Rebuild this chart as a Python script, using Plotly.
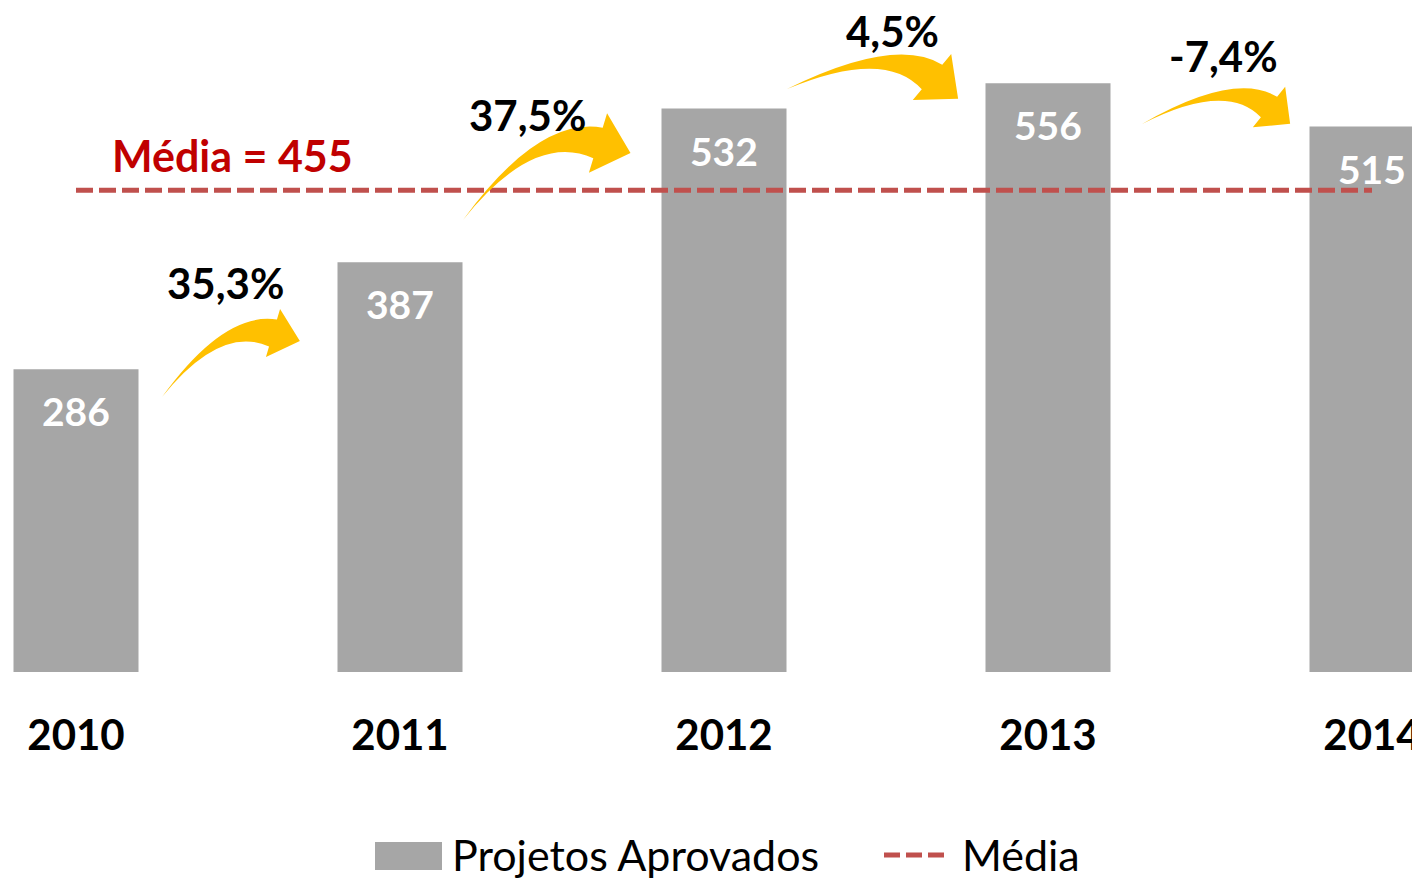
import plotly.graph_objects as go

# data
years = ["2010", "2011", "2012", "2013", "2014"]
projetos = [286, 387, 532, 556, 515]
media = round(sum(projetos) / len(projetos))

bar_color = "#A6A6A6"
line_color = "#C0504D"
arrow_color = "#FFC000"
font = "Lato"

# the page body adds an 8px margin, so the figure is made smaller and
# every reference pixel position below is shifted by that amount
OFF = 8
W, H = 1420 - OFF, 878 - OFF
X0_PX = 76 - OFF      # centre of first category
CAT_PX = 324          # distance between categories
BASE_PX = 672 - OFF   # y of the bar baseline
Y_PX = 1.059          # pixels per unit


def to_data(px, py):
    return (px - OFF - X0_PX) / CAT_PX, (BASE_PX - (py - OFF)) / Y_PX


def to_paper(px, py):
    return (px - OFF) / W, (BASE_PX - (py - OFF)) / BASE_PX


def arrow_path(T, B, C, hl, hw, w):
    # curved block arrow: tail T, head base B, curve control C
    dx, dy = B[0] - C[0], B[1] - C[1]
    ln = (dx * dx + dy * dy) ** 0.5
    dx, dy = dx / ln, dy / ln
    nx, ny = dy, -dx
    pts = {
        "T": T,
        "Cu": (C[0] + nx * w / 2, C[1] + ny * w / 2),
        "U": (B[0] + nx * w, B[1] + ny * w),
        "Wt": (B[0] + nx * hw, B[1] + ny * hw),
        "P": (B[0] + dx * hl, B[1] + dy * hl),
        "Wb": (B[0] - nx * hw, B[1] - ny * hw),
        "L": (B[0] - nx * w, B[1] - ny * w),
        "Cl": (C[0] - nx * w / 2, C[1] - ny * w / 2),
    }
    d = {k: "%.4f,%.3f" % to_data(*v) for k, v in pts.items()}
    return ("M{T} Q{Cu} {U} L{Wt} L{P} L{Wb} L{L} Q{Cl} {T} Z").format(**d)


fig = go.Figure()

fig.add_trace(go.Bar(
    x=list(range(len(years))),
    y=projetos,
    width=125 / CAT_PX,
    marker=dict(color=bar_color, line=dict(width=0)),
    name="Projetos Aprovados",
    showlegend=False,
))

fig.add_trace(go.Scatter(
    x=[0, len(years) - 1],
    y=[media, media],
    mode="lines",
    line=dict(color=line_color, width=5, dash="17px,6px"),
    name="Média",
    showlegend=False,
))

# value labels inside bars
for i, v in enumerate(projetos):
    fig.add_annotation(
        x=i, y=v, text=f"<b>{v}</b>", showarrow=False,
        yanchor="middle", yshift=-42,
        font=dict(family=font, size=39, color="white"),
    )

# growth arrows and labels (reference pixels)
arrows = [
    dict(T=(162, 397), B=(273, 333), C=(222, 318), hl=28, hw=25, w=14),
    dict(T=(463, 220), B=(598, 143), C=(536, 124), hl=34, hw=31, w=16),
    dict(T=(787, 89), B=(932, 77), C=(890, 42), hl=34, hw=30, w=16),
    dict(T=(1142, 124), B=(1269, 107), C=(1230, 76), hl=27, hw=26, w=13),
]
label_px = [(225, 283), (527, 115), (892, 31), (1223, 56)]

for i, a in enumerate(arrows):
    fig.add_shape(type="path", path=arrow_path(**a), xref="x", yref="y",
                  fillcolor=arrow_color, line=dict(width=0), layer="above")
    pct = (projetos[i + 1] / projetos[i] - 1) * 100
    txt = f"{pct:.1f}%".replace(".", ",")
    lx, ly = to_data(*label_px[i])
    fig.add_annotation(x=lx, y=ly, text=f"<b>{txt}</b>", showarrow=False,
                       yanchor="middle",
                       font=dict(family=font, size=42, color="black"))

mx, my = to_data(232, 155)
fig.add_annotation(x=mx, y=my, text=f"<b>Média = {media}</b>", showarrow=False,
                   yanchor="middle",
                   font=dict(family=font, size=43, color="#C00000"))

# legend drawn by hand so the swatches match
rx0, ry0 = to_paper(375, 842)
rx1, ry1 = to_paper(442, 870)
fig.add_shape(type="rect", xref="paper", yref="paper",
              x0=rx0, x1=rx1, y0=ry0, y1=ry1,
              fillcolor=bar_color, line=dict(width=0))
tx, ty = to_paper(450, 854)
fig.add_annotation(xref="paper", yref="paper", x=tx, y=ty,
                   xanchor="left", yanchor="middle", showarrow=False,
                   text="Projetos Aprovados",
                   font=dict(family=font, size=43, color="black"))
lx0, ly0 = to_paper(884, 855)
lx1, _ = to_paper(946, 855)
fig.add_shape(type="line", xref="paper", yref="paper",
              x0=lx0, x1=lx1, y0=ly0, y1=ly0,
              line=dict(color=line_color, width=5, dash="16px,6px"))
tx, ty = to_paper(960, 854)
fig.add_annotation(xref="paper", yref="paper", x=tx, y=ty,
                   xanchor="left", yanchor="middle", showarrow=False,
                   text="Média",
                   font=dict(family=font, size=43, color="black"))

fig.update_layout(
    width=W, height=H,
    margin=dict(l=0, r=0, t=0, b=H - BASE_PX),
    paper_bgcolor="white", plot_bgcolor="white",
    showlegend=False,
    xaxis=dict(
        range=[-X0_PX / CAT_PX, (W - X0_PX) / CAT_PX],
        tickvals=list(range(len(years))),
        ticktext=[f"<b>{y}</b>" for y in years],
        tickfont=dict(family=font, size=42, color="black"),
        ticks="outside", ticklen=27, tickcolor="rgba(0,0,0,0)",
        ticklabeloverflow="allow",
        showgrid=False, zeroline=False, showline=False,
    ),
    yaxis=dict(
        range=[0, BASE_PX / Y_PX],
        visible=False, showgrid=False, zeroline=False,
    ),
)

fig.write_html("out.html")
